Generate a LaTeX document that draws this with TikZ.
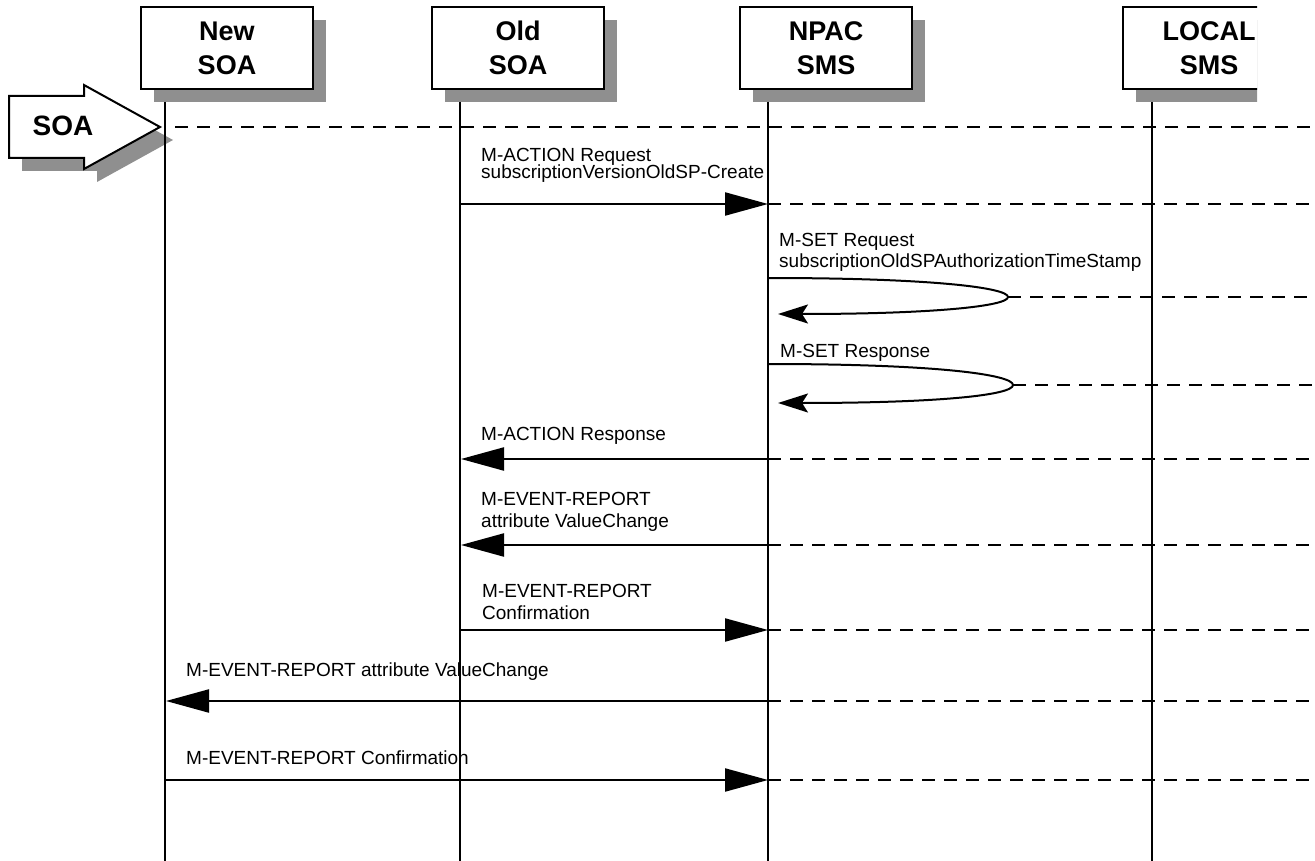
\documentclass[tikz,border=0pt]{standalone}
\usepackage{fontspec}
\setmainfont{Liberation Sans}
\usepackage{tikz}
\usepackage{xcolor}
\usetikzlibrary{arrows.meta,shadows}
\definecolor{shadowgray}{HTML}{8F8F8F}

\begin{document}
\begin{tikzpicture}[x=1pt,y=-1pt,
  boxshadow/.style={drop shadow={shadow xshift=13pt,shadow yshift=-13pt,fill=shadowgray,opacity=1}},
  actor/.style={draw,line width=2.2pt,fill=white,boxshadow,minimum width=172pt,minimum height=82pt,
    inner sep=0pt,align=center,font=\fontsize{27}{34}\selectfont\bfseries},
  life/.style={line width=2.2pt},
  msg/.style={line width=2.2pt,-{Triangle[length=43pt,width=23pt]}},
  selfmsg/.style={line width=2pt,-{Stealth[length=30pt,width=19pt,inset=6pt]}},
  cont/.style={line width=2.4pt,dash pattern=on 13pt off 9pt},
  lbl/.style={anchor=base west,inner sep=0pt,font=\fontsize{19}{21}\selectfont}]
\useasboundingbox (0,0) rectangle (1315,861);
\coordinate (S) at (160,127);
\coordinate (D0) at (175,127);
\coordinate (E0) at (1315,127);
\coordinate (WT) at (165,102);
\coordinate (WB) at (165,861);
\coordinate (OT) at (460,102);
\coordinate (OB) at (460,861);
\coordinate (NT) at (768,102);
\coordinate (NB) at (768,861);
\coordinate (LT) at (1152,102);
\coordinate (LB) at (1152,861);
\coordinate (O1) at (460,204);
\coordinate (N1) at (768,204);
\coordinate (E1) at (1315,204);
\coordinate (N2) at (768,278);
\coordinate (R2) at (1008,297);
\coordinate (T2) at (778,314);
\coordinate (E2) at (1315,297);
\coordinate (N3) at (768,364);
\coordinate (R3) at (1013,385);
\coordinate (T3) at (778,403);
\coordinate (E3) at (1315,385);
\coordinate (N4) at (768,459);
\coordinate (O4) at (461,459);
\coordinate (E4) at (1315,459);
\coordinate (N5) at (768,545);
\coordinate (O5) at (461,545);
\coordinate (E5) at (1315,545);
\coordinate (O6) at (460,630);
\coordinate (N6) at (768,630);
\coordinate (E6) at (1315,630);
\coordinate (N7) at (768,701);
\coordinate (W7) at (166,701);
\coordinate (E7) at (1315,701);
\coordinate (W8) at (165,780);
\coordinate (N8) at (768,780);
\coordinate (E8) at (1315,780);
\draw[line width=2pt,fill=white,boxshadow] (9,96) -- (84,96) -- (84,85) -- (S) -- (84,169) -- (84,158) -- (9,158) -- cycle;
\node[font=\fontsize{28}{34}\selectfont\bfseries] (soa) at (63,126) {SOA};
\node[actor] (newsoa) at (227,48) {New\\SOA};
\node[actor] (oldsoa) at (518,48) {Old\\SOA};
\node[actor] (npacsms) at (826,48) {NPAC\\SMS};
\begin{scope}
\clip (0,0) rectangle (1257,861);
\node[actor] (localsms) at (1209,48) {LOCAL\\SMS};
\end{scope}
\draw[life] (WT) -- (WB);
\draw[life] (OT) -- (OB);
\draw[life] (NT) -- (NB);
\draw[life] (LT) -- (LB);
\draw[cont] (D0) -- (E0);
\draw[msg] (O1) -- (N1);
\draw[cont] (N1) -- (E1);
\draw[selfmsg] (N2) .. controls (935,278) and (1008,288) .. (R2) .. controls (1008,306) and (935,314) .. (T2);
\draw[cont] (R2) -- (E2);
\draw[selfmsg] (N3) .. controls (940,364) and (1013,375) .. (R3) .. controls (1013,395) and (940,403) .. (T3);
\draw[cont] (R3) -- (E3);
\draw[msg] (N4) -- (O4);
\draw[cont] (N4) -- (E4);
\draw[msg] (N5) -- (O5);
\draw[cont] (N5) -- (E5);
\draw[msg] (O6) -- (N6);
\draw[cont] (N6) -- (E6);
\draw[msg] (N7) -- (W7);
\draw[cont] (N7) -- (E7);
\draw[msg] (W8) -- (N8);
\draw[cont] (N8) -- (E8);
\node[lbl] (l1a) at (481,162) {M-ACTION Request};
\node[lbl] (l1b) at (481,179) {subscriptionVersionOldSP-Create};
\node[lbl] (l2a) at (779,247) {M-SET Request};
\node[lbl] (l2b) at (779,268) {subscriptionOldSPAuthorizationTimeStamp};
\node[lbl] (l3) at (780,357) {M-SET Response};
\node[lbl] (l4) at (481,440) {M-ACTION Response};
\node[lbl] (l5a) at (481,505) {M-EVENT-REPORT};
\node[lbl] (l5b) at (481,527) {attribute ValueChange};
\node[lbl] (l6a) at (482,597) {M-EVENT-REPORT};
\node[lbl] (l6b) at (482,619) {Confirmation};
\node[lbl] (l7) at (186,676) {M-EVENT-REPORT attribute ValueChange};
\node[lbl] (l8) at (186,764) {M-EVENT-REPORT Confirmation};
\end{tikzpicture}
\end{document}
